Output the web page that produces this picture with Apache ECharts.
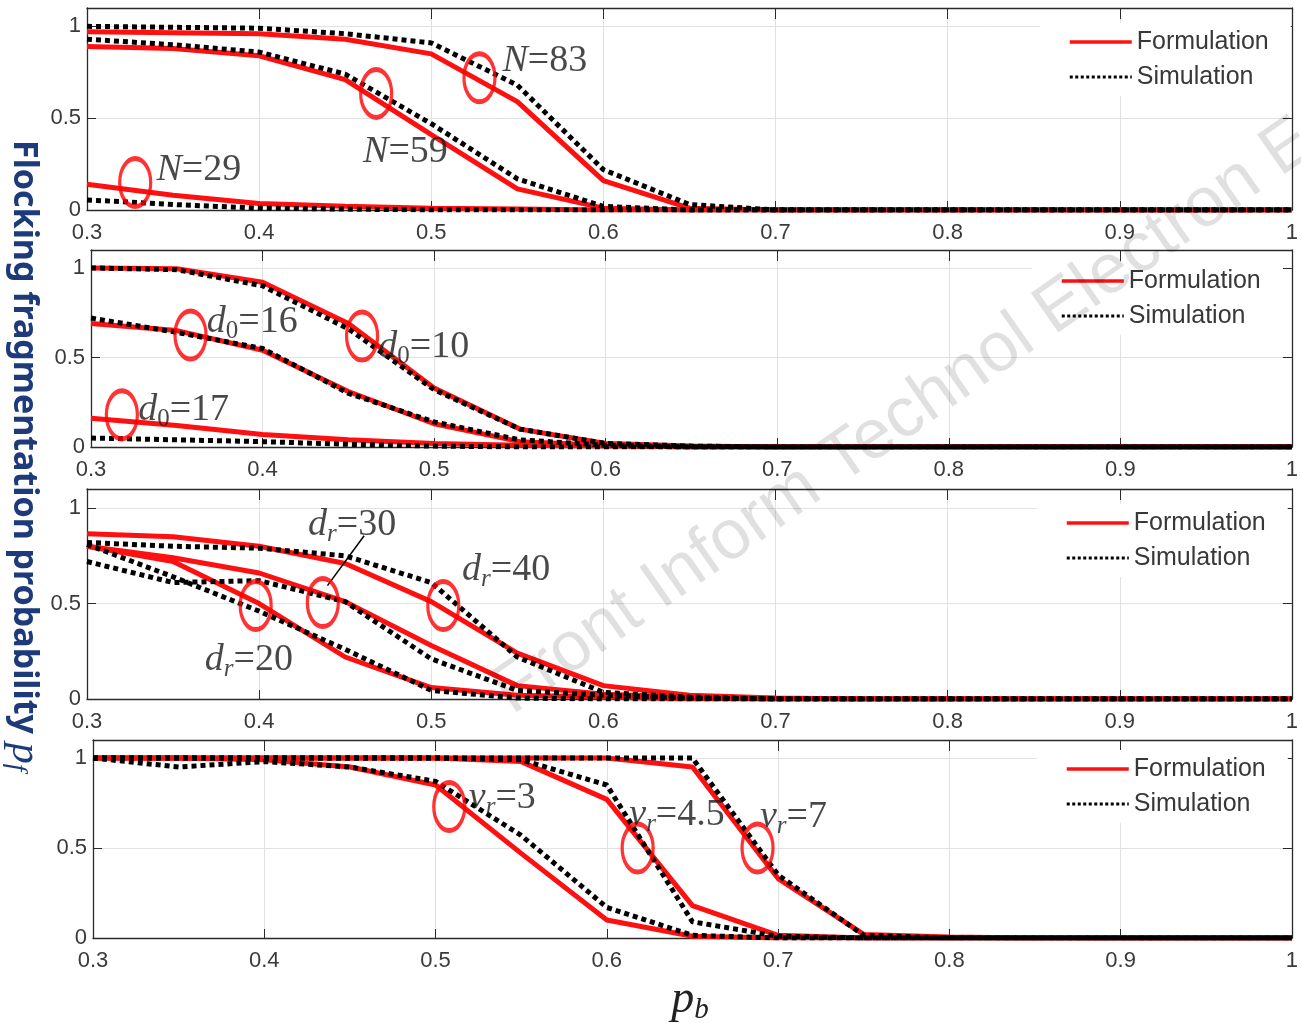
<!DOCTYPE html>
<html><head><meta charset="utf-8">
<script src="https://cdn.jsdelivr.net/npm/echarts@6/dist/echarts.min.js"></script>
<style>html,body{margin:0;padding:0;background:#fff;}#c{width:1301px;height:1023px;}</style>
</head><body><div id="c"></div>
<script>
// ---- data ----
const PB = [0.3,0.35,0.4,0.45,0.5,0.55,0.6,0.65,0.7,0.75,0.8,0.85,0.9,0.95,1.0];
const X_TICKS = ['0.3','0.4','0.5','0.6','0.7','0.8','0.9','1'];
const Y_TICKS = ['0','0.5','1'];
const LEGEND_NAMES = ['Formulation','Simulation'];

// panel 1 : N
const N83_FORM = [0.97,0.965,0.96,0.93,0.85,0.59,0.16,0.01,0,0,0,0,0,0,0];
const N83_SIM  = [1.0,0.995,0.99,0.96,0.91,0.68,0.22,0.03,0,0,0,0,0,0,0];
const N59_FORM = [0.89,0.88,0.84,0.71,0.41,0.115,0.01,0,0,0,0,0,0,0,0];
const N59_SIM  = [0.93,0.90,0.86,0.74,0.47,0.17,0.02,0,0,0,0,0,0,0,0];
const N29_FORM = [0.14,0.08,0.035,0.02,0.01,0.005,0,0,0,0,0,0,0,0,0];
const N29_SIM  = [0.055,0.03,0.01,0.005,0,0,0,0,0,0,0,0,0,0,0];
// panel 2 : d0
const D10_FORM = [1.0,0.995,0.92,0.69,0.33,0.10,0.02,0.005,0,0,0,0,0,0,0];
const D10_SIM  = [1.0,0.99,0.90,0.66,0.32,0.10,0.02,0.005,0,0,0,0,0,0,0];
const D16_FORM = [0.69,0.65,0.54,0.31,0.13,0.03,0.01,0,0,0,0,0,0,0,0];
const D16_SIM  = [0.72,0.64,0.55,0.30,0.14,0.04,0.01,0,0,0,0,0,0,0,0];
const D17_FORM = [0.16,0.12,0.07,0.04,0.02,0.01,0.005,0,0,0,0,0,0,0,0];
const D17_SIM  = [0.05,0.04,0.03,0.015,0.005,0,0,0,0,0,0,0,0,0,0];
// panel 3 : dr
const DR40_FORM = [0.865,0.85,0.80,0.71,0.51,0.24,0.07,0.02,0.005,0,0,0,0,0,0];
const DR40_SIM  = [0.82,0.80,0.79,0.75,0.61,0.22,0.035,0.01,0,0,0,0,0,0,0];
const DR30_FORM = [0.80,0.74,0.66,0.51,0.28,0.07,0.025,0.01,0,0,0,0,0,0,0];
const DR30_SIM  = [0.72,0.61,0.62,0.51,0.21,0.045,0.02,0.005,0,0,0,0,0,0,0];
const DR20_FORM = [0.80,0.72,0.50,0.22,0.06,0.02,0.01,0,0,0,0,0,0,0,0];
const DR20_SIM  = [0.81,0.64,0.46,0.26,0.045,0.005,0,0,0,0,0,0,0,0,0];
// panel 4 : vr
const VR3_FORM  = [1.0,1.0,0.99,0.95,0.85,0.47,0.10,0.01,0,0,0,0,0,0,0];
const VR3_SIM   = [1.0,0.95,0.98,0.95,0.87,0.57,0.17,0.015,0,0,0,0,0,0,0];
const VR45_FORM = [1,1,1,1,1,0.98,0.77,0.18,0.015,0,0,0,0,0,0];
const VR45_SIM  = [1,1,1,1,1,0.99,0.85,0.09,0.01,0,0,0,0,0,0];
const VR7_FORM  = [1,1,1,1,1,1,1,0.95,0.33,0.02,0.005,0,0,0,0];
const VR7_SIM   = [1,1,1,1,1,1,1,1.0,0.35,0.015,0,0,0,0,0];

// annotation circles (pb, pf)
const P1_CIRCLES = [[0.528,0.72],[0.468,0.635],[0.328,0.15]];
const P2_CIRCLES = [[0.458,0.62],[0.358,0.625],[0.318,0.18]];
const P3_CIRCLES = [[0.398,0.49],[0.437,0.505],[0.507,0.49]];
const P4_CIRCLES = [[0.508,0.73],[0.618,0.50],[0.688,0.50]];
// annotation labels: [pb, pf, symbol, subscript, value]
const P1_LABELS = [[0.566,0.81,'N','','83'],[0.485,0.317,'N','','59'],[0.365,0.219,'N','','29']];
const P2_LABELS = [[0.394,0.70,'d','0','16'],[0.494,0.56,'d','0','10'],[0.354,0.207,'d','0','17']];
const P3_LABELS = [[0.454,0.91,'d','r','30'],[0.5435,0.675,'d','r','40'],[0.394,0.204,'d','r','20']];
const P4_LABELS = [[0.539,0.78,'v','r','3'],[0.641,0.683,'v','r','4.5'],[0.709,0.672,'v','r','7']];
const P3_ARROW = [[0.4397,0.594],[0.461,0.855]];

const PANELS = [
  {curves:[[N83_FORM,N83_SIM],[N59_FORM,N59_SIM],[N29_FORM,N29_SIM]], circles:P1_CIRCLES, labels:P1_LABELS},
  {curves:[[D10_FORM,D10_SIM],[D16_FORM,D16_SIM],[D17_FORM,D17_SIM]], circles:P2_CIRCLES, labels:P2_LABELS},
  {curves:[[DR40_FORM,DR40_SIM],[DR30_FORM,DR30_SIM],[DR20_FORM,DR20_SIM]], circles:P3_CIRCLES, labels:P3_LABELS, arrow:P3_ARROW},
  {curves:[[VR3_FORM,VR3_SIM],[VR45_FORM,VR45_SIM],[VR7_FORM,VR7_SIM]], circles:P4_CIRCLES, labels:P4_LABELS}
];

// ---- layout ----
const GRIDS = [
  {left:87, top:8,   width:1214, height:202},
  {left:91, top:250, width:1210, height:197},
  {left:87, top:489, width:1214, height:210},
  {left:93, top:740, width:1210, height:198}
];
const LEGEND_POS = [{left:1040, top:23},{left:1032, top:262},{left:1037, top:504},{left:1037, top:750}];

const AX_COLOR = '#2a2a2a';
const GRID_COLOR = '#e2e2e2';
const LBL_FONT = 'Liberation Sans';

const xAxes = [], yAxes = [], series = [], legends = [];
GRIDS.forEach((g, i) => {
  xAxes.push({
    type:'value', gridIndex:i, min:0.3, max:1.0, interval:0.1, position:'bottom',
    axisLine:{show:true, onZero:false, lineStyle:{color:AX_COLOR, width:1.3}},
    axisTick:{show:true, inside:true, length:9, lineStyle:{color:AX_COLOR}},
    splitLine:{show:true, lineStyle:{color:GRID_COLOR, width:1}},
    axisLabel:{show:true, margin:12, color:'#3a3a3a', fontSize:22, fontFamily:LBL_FONT,
      formatter: v => { const k = Math.round((v-0.3)/0.1); return X_TICKS[k] !== undefined ? X_TICKS[k] : ''; }}
  });
  xAxes.push({
    type:'value', gridIndex:i, min:0.3, max:1.0, interval:0.1, position:'top',
    axisLine:{show:true, onZero:false, lineStyle:{color:AX_COLOR, width:1.3}},
    axisTick:{show:true, inside:true, length:11, lineStyle:{color:AX_COLOR}},
    splitLine:{show:false}, axisLabel:{show:false}
  });
  yAxes.push({
    type:'value', gridIndex:i, min:0, max:1.1, interval:0.5, position:'left',
    axisLine:{show:true, onZero:false, lineStyle:{color:AX_COLOR, width:1.3}},
    axisTick:{show:true, inside:true, length:9, lineStyle:{color:AX_COLOR}},
    splitLine:{show:true, lineStyle:{color:GRID_COLOR, width:1}},
    axisLabel:{show:true, margin:6, color:'#3a3a3a', fontSize:22, fontFamily:LBL_FONT,
      formatter: v => { const k = Math.round(v/0.5); return (Math.abs(v - k*0.5) < 1e-6 && Y_TICKS[k]) ? Y_TICKS[k] : ''; }}
  });
  yAxes.push({
    type:'value', gridIndex:i, min:0, max:1.1, interval:0.5, position:'right',
    axisLine:{show:true, onZero:false, lineStyle:{color:AX_COLOR, width:1.3}},
    axisTick:{show:true, inside:true, length:9, lineStyle:{color:AX_COLOR}},
    splitLine:{show:false}, axisLabel:{show:false}
  });
  legends.push({
    data: [
      {name: LEGEND_NAMES[0], lineStyle:{width:3.5}},
      {name: LEGEND_NAMES[1], lineStyle:{width:3, type:[3,2.5]}}
    ],
    orient:'vertical', left:LEGEND_POS[i].left, top:LEGEND_POS[i].top,
    backgroundColor:'#ffffff', padding:[6,22,6,28], itemWidth:62, itemHeight:14, itemGap:9,
    selectedMode:false, itemStyle:{opacity:0},
    textStyle:{fontSize:25, lineHeight:26, color:'#383838', fontFamily:LBL_FONT}
  });
});

PANELS.forEach((p, i) => {
  const xi = 2*i, yi = 2*i;
  p.curves.forEach(pair => {
    series.push({
      name:'Formulation', type:'line', xAxisIndex:xi, yAxisIndex:yi, showSymbol:false, symbol:'none',
      lineStyle:{color:'#ff1010', width:5}, itemStyle:{color:'#ff1010'}, z:3, silent:true,
      data: PB.map((x,k) => [x, pair[0][k]])
    });
  });
  p.curves.forEach(pair => {
    series.push({
      name:'Simulation', type:'line', xAxisIndex:xi, yAxisIndex:yi, showSymbol:false, symbol:'none',
      lineStyle:{color:'#000000', width:5, type:[5,4], cap:'butt'}, itemStyle:{color:'#000'}, z:4, silent:true,
      data: PB.map((x,k) => [x, pair[1][k]])
    });
  });
  const circ = {
    name:'circles'+i, type:'scatter', xAxisIndex:xi, yAxisIndex:yi, symbol:'circle', symbolSize:[31,48],
    itemStyle:{color:'rgba(0,0,0,0)', borderColor:'#ff0000', borderWidth:4}, z:5, silent:true,
    data: p.circles
  };
  if (p.arrow) {
    circ.markLine = {
      silent:true, symbol:['none','arrow'], symbolSize:[0,20], label:{show:false},
      lineStyle:{color:'#000', width:1.5, type:'solid'},
      data:[[{coord:p.arrow[0]},{coord:p.arrow[1]}]]
    };
  }
  series.push(circ);
  series.push({
    name:'labels'+i, type:'scatter', xAxisIndex:xi, yAxisIndex:yi, symbolSize:1,
    itemStyle:{color:'rgba(0,0,0,0)'}, z:6, silent:true,
    data: p.labels.map(l => ({
      value:[l[0], l[1]],
      label:{show:true, position:'inside',
        formatter: '{i|' + l[2] + '}' + (l[3] ? ('{' + (l[3]==='r' ? 'r' : 's') + '|' + l[3] + '}') : '') + '{t|=' + l[4] + '}',
        rich:{
          i:{fontFamily:'Liberation Serif', fontStyle:'italic', fontSize:38, lineHeight:44, color:'#1a1a1a'},
          t:{fontFamily:'Liberation Serif', fontSize:38, lineHeight:44, color:'#1a1a1a'},
          s:{fontFamily:'Liberation Serif', fontSize:25, lineHeight:25, verticalAlign:'bottom', color:'#1a1a1a'},
          r:{fontFamily:'Liberation Serif', fontStyle:'italic', fontSize:25, lineHeight:25, verticalAlign:'bottom', color:'#1a1a1a'}
        }}
    }))
  });
});

const WM_ANGLE = 35 * Math.PI / 180;
const chart = echarts.init(document.getElementById('c'), null, {renderer:'canvas'});
chart.setOption({
  backgroundColor:'#ffffff',
  animation:false,
  grid: GRIDS.map(g => Object.assign({containLabel:false}, g)),
  xAxis: xAxes, yAxis: yAxes, legend: legends, series: series,
  graphic: [
    {type:'text', x:24, y:140, rotation:-Math.PI/2, z:10,
      style:{text:'{a|Flocking fragmentation probability }{p|p}{f|f}', textAlign:'left', textVerticalAlign:'middle',
        rich:{
          a:{fontFamily:'Noto Sans', fontWeight:'bold', fontSize:34, fill:'#1d3a7a', color:'#1d3a7a'},
          p:{fontFamily:'Liberation Serif', fontStyle:'italic', fontSize:42, fill:'#1d3a7a', color:'#1d3a7a'},
          f:{fontFamily:'Liberation Serif', fontStyle:'italic', fontSize:27, fill:'#1d3a7a', color:'#1d3a7a', verticalAlign:'bottom', lineHeight:27}
        }}},
    {type:'text', x:690, y:1000, z:10,
      style:{text:'{p|p}{b|b}', textAlign:'center', textVerticalAlign:'middle',
        rich:{
          p:{fontFamily:'Liberation Serif', fontStyle:'italic', fontSize:46, lineHeight:50, fill:'#222', color:'#222'},
          b:{fontFamily:'Liberation Serif', fontStyle:'italic', fontSize:29, lineHeight:29, verticalAlign:'bottom', fill:'#222', color:'#222'}
        }}},
    {type:'text', x:521, y:728, rotation:WM_ANGLE, z:20, silent:true,
      style:{text:'Front Inform Technol Electron Eng', fontFamily:'Liberation Sans', fontSize:70,
        fill:'rgba(0,0,0,0.12)', textAlign:'left', textVerticalAlign:'bottom'}}
  ]
});
</script>
</body></html>
